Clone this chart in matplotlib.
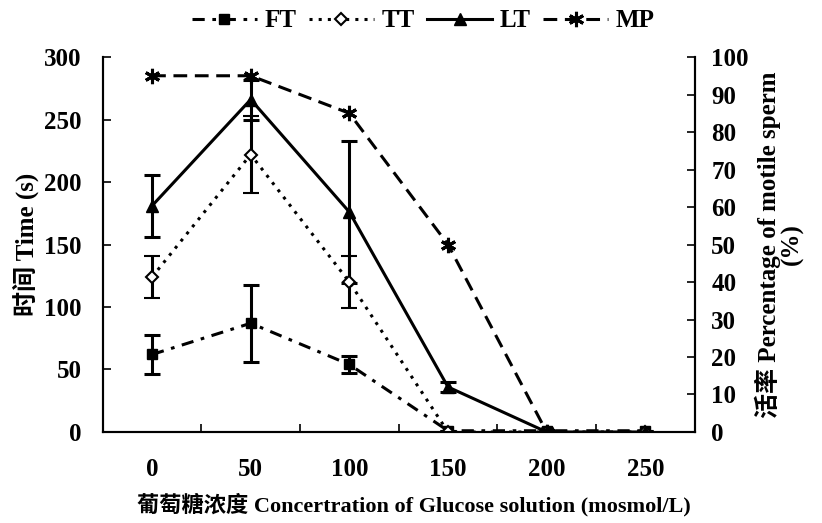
import matplotlib
matplotlib.use("Agg")
import matplotlib.pyplot as plt
from matplotlib.lines import Line2D
import numpy as np

plt.rcParams['font.family'] = ['Liberation Serif', 'Noto Sans CJK SC']
plt.rcParams['font.weight'] = 'bold'

categories = ["0", "50", "100", "150", "200", "250"]
ft = [62, 87, 54, 1, 1, 1]
ft_err = [16, 31, 7, 0, 0, 0]
tt = [124, 222, 120, 0, 0, 0]
tt_err = [17, 31, 21, 0, 0, 0]
lt = [181, 266, 176, 36, 0, 0]
lt_err = [25, 16, 57, 4, 0, 0]
mp = [95, 95, 85, 50, 0]
left_ticks = [0, 50, 100, 150, 200, 250, 300]
right_ticks = [0, 10, 20, 30, 40, 50, 60, 70, 80, 90, 100]

x = np.arange(len(categories))

fig = plt.figure(figsize=(8.22, 5.23), dpi=100)
ax = fig.add_axes([0.125, 0.174, 0.72, 0.717])
ax2 = ax.twinx()

fs = 18
lw = 2.2
ft_ls = (0, (4, 2.5, 1.2, 2.5))
tt_ls = (0, (1, 2))
mp_ls = (0, (4.5, 2.5))
ax.errorbar(x, ft, yerr=ft_err, color='black', lw=lw, ls=ft_ls,
            marker='s', ms=7, mfc='black', capsize=6, capthick=2.2, elinewidth=2.2, zorder=3)
ax.errorbar(x, tt, yerr=tt_err, color='black', lw=lw, ls=tt_ls,
            marker='D', ms=6, mfc='white', mew=1.5, capsize=6, capthick=2.2, elinewidth=2.2, zorder=3)
ax.errorbar(x, lt, yerr=lt_err, color='black', lw=lw, ls='-',
            marker='^', ms=8, mfc='black', capsize=6, capthick=2.2, elinewidth=2.2, zorder=3)
ax2.plot(x[:len(mp)], mp, color='black', lw=2.2, ls=mp_ls,
         marker=(6, 2, 0), ms=11, mew=2.2)

ax.set_xlim(-0.5, len(categories) - 0.5)
ax.set_ylim(0, 300)
ax2.set_ylim(0, 100)
ax.set_xticks(x)
ax.set_xticklabels(categories)
ax.set_xticks(np.arange(0.5, len(categories) - 0.5, 1), minor=True)
ax.tick_params(axis='x', which='major', length=0, pad=19, labelsize=fs)
ax.tick_params(axis='x', which='minor', direction='in', length=6, width=1.2)
ax.set_yticks(left_ticks)
ax.tick_params(axis='y', direction='in', length=6, width=1.2, labelsize=fs, pad=15)
ax2.set_yticks(right_ticks)
ax2.tick_params(axis='y', direction='in', length=6, width=1.2, labelsize=fs, pad=12)
for a in (ax, ax2):
    for s in a.spines.values():
        s.set_linewidth(1.5)
ax.spines['top'].set_visible(False)
ax2.spines['top'].set_visible(False)

ax.set_ylabel("时间 Time (s)", fontsize=18, fontweight='bold', labelpad=4)
ax2.set_ylabel("活率 Percentage of motile sperm\n(%)", fontsize=18, fontweight='bold',
               labelpad=4, linespacing=1.0)
ax.set_xlabel("葡萄糖浓度 Concertration of Glucose solution (mosmol/L)", fontsize=16,
              fontweight='bold')
ax.xaxis.set_label_coords(0.525, -0.195)
ax.xaxis.label.set_va('center')

handles = [
    Line2D([], [], color='black', lw=lw, ls=ft_ls, marker='s', ms=7),
    Line2D([], [], color='black', lw=lw, ls=tt_ls, marker='D', ms=6, mfc='white', mew=1.5),
    Line2D([], [], color='black', lw=lw, ls='-', marker='^', ms=8),
    Line2D([], [], color='black', lw=2.2, ls=mp_ls, marker=(6, 2, 0), ms=11, mew=2.2),
]
fig.legend(handles, ["FT", "TT", "LT", "MP"], loc='center', bbox_to_anchor=(0.515, 0.96),
           ncol=4, frameon=False, fontsize=fs, handlelength=2.6, columnspacing=0.5,
           handletextpad=0.3)

fig.savefig("out.png", dpi=100)
